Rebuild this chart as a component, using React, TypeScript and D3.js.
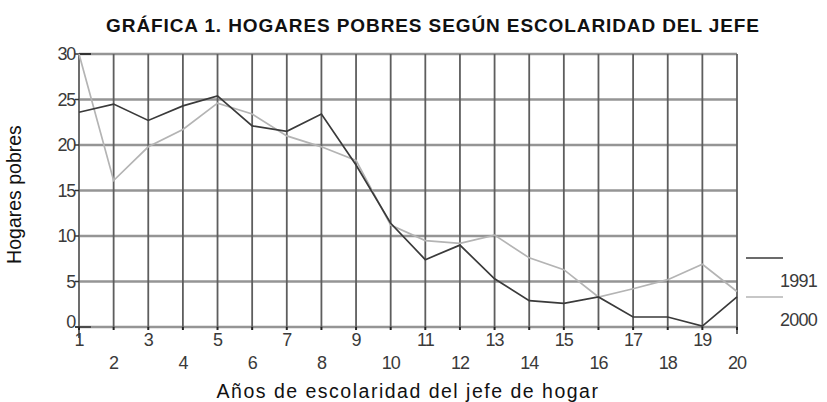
import React from "react";
import { scaleLinear, line } from "d3";

const years = [1, 2, 3, 4, 5, 6, 7, 8, 9, 10, 11, 12, 13, 14, 15, 16, 17, 18, 19, 20];
const serie1991 = [23.6, 24.5, 22.7, 24.3, 25.4, 22.1, 21.5, 23.4, 17.8, 11.4, 7.4, 9.0, 5.3, 2.9, 2.6, 3.3, 1.1, 1.1, 0.1, 3.3];
const serie2000 = [30, 16.1, 19.8, 21.7, 24.6, 23.4, 21.0, 19.8, 18.3, 11.2, 9.5, 9.2, 10.1, 7.6, 6.3, 3.3, 4.2, 5.2, 6.9, 3.9];
const yTicks = [0, 5, 10, 15, 20, 25, 30];
const legend = [
  { label: "1991", values: serie1991, color: "#3a3a3a" },
  { label: "2000", values: serie2000, color: "#b4b4b4" },
];

const width = 827;
const height = 402;
const margin = { top: 54, right: 90, bottom: 75, left: 79 };

const App = () => {
  const x = scaleLinear().domain([1, 20]).range([margin.left, width - margin.right]);
  const y = scaleLinear().domain([0, 30]).range([height - margin.bottom, margin.top]);

  const lineGen = line<number>()
    .x((_, i) => x(years[i]))
    .y((d) => y(d));

  const font = "Liberation Sans, Arial, sans-serif";

  return (
    <svg
      width={width}
      height={height}
      style={{ position: "absolute", left: 0, top: 0, background: "#fff" }}
      fontFamily={font}
    >
      <text
        x={433}
        y={32}
        textAnchor="middle"
        fontWeight="bold"
        fontSize={19}
        letterSpacing={0.9}
        fill="#111"
      >
        GRÁFICA 1. HOGARES POBRES SEGÚN ESCOLARIDAD DEL JEFE
      </text>

      {/* horizontal grid */}
      {yTicks.map((t) => (
        <line
          key={"h" + t}
          x1={x(1)}
          x2={x(20)}
          y1={y(t)}
          y2={y(t)}
          stroke="#959595"
          strokeWidth={2.5}
        />
      ))}
      {/* vertical grid */}
      {years.map((d) => (
        <line
          key={"v" + d}
          x1={x(d)}
          x2={x(d)}
          y1={y(30)}
          y2={y(0)}
          stroke="#5e5e5e"
          strokeWidth={1.8}
        />
      ))}

      {/* axis extras */}
      <line x1={x(1)} x2={x(1)} y1={y(0)} y2={y(0) + 11} stroke="#333" strokeWidth={1.5} />
      <line x1={x(20)} x2={x(20)} y1={y(0)} y2={y(0) + 7} stroke="#333" strokeWidth={1.5} />
      <line x1={x(1)} x2={x(1) + 12} y1={y(30)} y2={y(30)} stroke="#333" strokeWidth={2} />
      <line x1={x(1) - 4} x2={x(1) + 12} y1={y(0)} y2={y(0)} stroke="#333" strokeWidth={1.5} />
      {years.map((d) => (
        <line key={"xt" + d} x1={x(d)} x2={x(d)} y1={y(0)} y2={y(0) + 3} stroke="#222" strokeWidth={2} />
      ))}
      {yTicks.map((t) => (
        <line key={"yt" + t} x1={x(1) - 4} x2={x(1)} y1={y(t)} y2={y(t)} stroke="#333" strokeWidth={1.5} />
      ))}

      {/* y tick labels */}
      {yTicks.map((t) => (
        <text
          key={"yl" + t}
          x={x(1) - 4}
          y={y(t) + (t === 0 ? 1 : 6)}
          textAnchor="end"
          fontSize={18}
          fill="#3a3a3a"
          letterSpacing={-1.2}
        >
          {t}
        </text>
      ))}
      {/* x tick labels, odd on top, even below */}
      {years.map((d) => (
        <text
          key={"xl" + d}
          x={x(d)}
          y={d % 2 === 1 ? y(0) + 19 : y(0) + 42}
          textAnchor="middle"
          fontSize={18}
          fill="#3a3a3a"
          letterSpacing={-1}
        >
          {d}
        </text>
      ))}

      {/* series */}
      {legend
        .slice()
        .reverse()
        .map((s) => (
          <path key={s.label} d={lineGen(s.values) || ""} fill="none" stroke={s.color} strokeWidth={1.7} />
        ))}

      {/* legend */}
      {legend.map((s, i) => (
        <g key={"lg" + s.label} transform={`translate(746,${258 + i * 39})`}>
          <line x1={0} x2={37} y1={0} y2={0} stroke={s.color} strokeWidth={1.7} />
          <text x={34} y={29} fontSize={18} fill="#3a3a3a" letterSpacing={-0.8}>
            {s.label}
          </text>
        </g>
      ))}

      <text
        transform={`translate(21,${(y(0) + y(30)) / 2 + 4}) rotate(-90)`}
        textAnchor="middle"
        fontSize={19.5}
        fill="#111"
      >
        Hogares pobres
      </text>
      <text x={408} y={398} textAnchor="middle" fontSize={19.5} letterSpacing={1.5} fill="#111">
        Años de escolaridad del jefe de hogar
      </text>
    </svg>
  );
};

export default App;
